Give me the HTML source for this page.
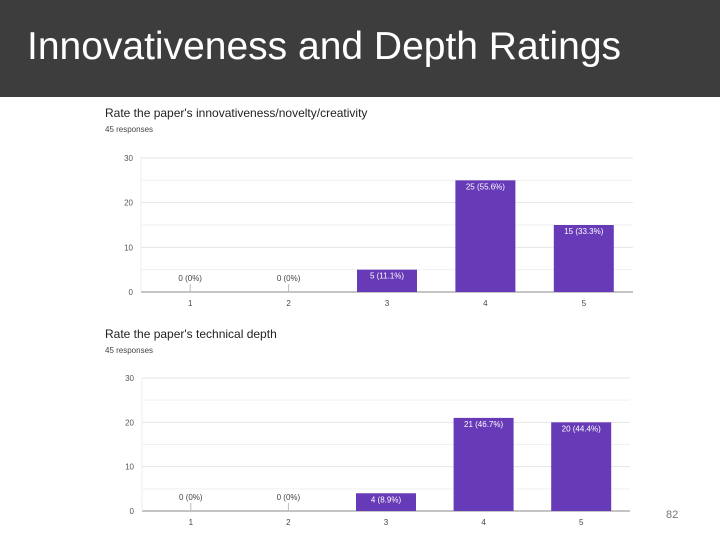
<!DOCTYPE html>
<html><head><meta charset="utf-8"><style>
body{margin:0;width:720px;height:540px;background:#fff;overflow:hidden;font-family:"Liberation Sans",sans-serif}
#hdr{position:absolute;left:0;top:0;width:720px;height:97px;background:#3d3d3d}
#ttl{position:absolute;left:27px;top:25px;color:#fff;font-size:39px;line-height:44px;white-space:nowrap}
#pg{position:absolute;left:666px;top:509px;font-size:11px;color:#777}
svg{position:absolute;left:0;top:0}
</style></head><body>
<div id="hdr"><div id="ttl">Innovativeness and Depth Ratings</div></div>
<div id="pg">82</div>
<svg id="s" width="720" height="540"></svg>
<script>
const categories=["1","2","3","4","5"];
const innovValues=[0,0,5,25,15];
const innovLabels=["0 (0%)","0 (0%)","5 (11.1%)","25 (55.6%)","15 (33.3%)"];
const depthValues=[0,0,4,21,20];
const depthLabels=["0 (0%)","0 (0%)","4 (8.9%)","21 (46.7%)","20 (44.4%)"];
const yTicks=[0,10,20,30];
const NS="http://www.w3.org/2000/svg";
const svg=document.getElementById('s');
function el(t,a,txt){const e=document.createElementNS(NS,t);for(const k in a)e.setAttribute(k,a[k]);if(txt!=null)e.textContent=txt;svg.appendChild(e);return e;}
function chart(cfg){
  const {x0,x1,y0,y30,vals,labels,title,ty,name}=cfg;
  const ys=v=>y0-(y0-y30)*v/30;
  const band=(x1-x0)/categories.length;
  const xs=i=>x0+band*(i+0.5);
  let t=el('text',{x:105,y:ty,'font-size':12,fill:'#222'},title);
  
  
  t=el('text',{x:105,y:ty+15,'font-size':8,fill:'#444'},'45 responses');
  
  
  for(let v=0;v<=30;v+=5){
    const g=el('line',{x1:x0,x2:x1,y1:ys(v),y2:ys(v),stroke:v===0?'#888':(v%10===0?'#e4e4e4':'#f0f0f0'),'stroke-width':1});
    
    
  }
  const vl=el('line',{x1:x0,x2:x0,y1:y30,y2:y0,stroke:'#eee'});
  
  
  yTicks.forEach(v=>{
    const tk=el('text',{x:x0-8,y:ys(v)+3,'font-size':8,fill:'#555','text-anchor':'end'},v);
    
    
  });
  categories.forEach((c,i)=>{
    const cx=xs(i);
    const tl=el('text',{x:cx,y:y0+14,'font-size':8,fill:'#444','text-anchor':'middle'},c);
    
    
    const v=vals[i];
    if(v>0){
      const b=el('rect',{x:cx-30,y:ys(v),width:60,height:y0-ys(v),fill:'#673ab7'});
      
      
      const l=el('text',{x:cx,y:ys(v)+9,'font-size':8,fill:'#fff','text-anchor':'middle'},labels[i]);
      
      
    }else{
      const tk=el('line',{x1:cx,x2:cx,y1:y0-8,y2:y0,stroke:'#bbb'});
      
      
      const l=el('text',{x:cx,y:y0-11,'font-size':8,fill:'#444','text-anchor':'middle'},labels[i]);
      
      
    }
  });
}
chart({x0:141,x1:633,y0:292,y30:158,vals:innovValues,labels:innovLabels,title:"Rate the paper's innovativeness/novelty/creativity",ty:117,name:'innovativeness-chart'});
chart({x0:142,x1:630,y0:511,y30:378,vals:depthValues,labels:depthLabels,title:"Rate the paper's technical depth",ty:338,name:'depth-chart'});
</script>
</body></html>
